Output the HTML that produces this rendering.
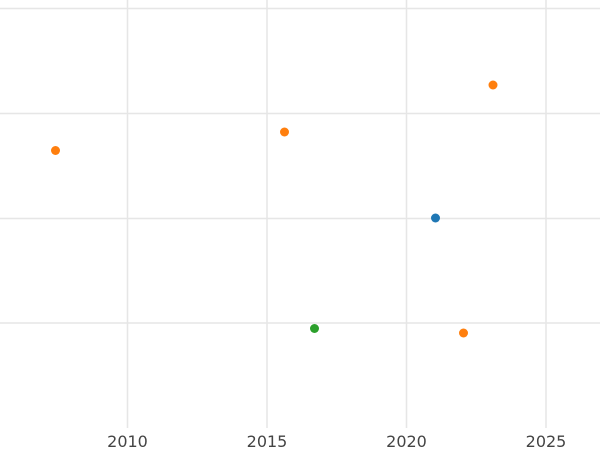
<!DOCTYPE html>
<html><head><meta charset="utf-8"><style>
html,body{margin:0;padding:0;background:#fff;width:600px;height:450px;overflow:hidden}
</style></head><body>
<svg width="600" height="450" xmlns="http://www.w3.org/2000/svg">
<g stroke="#e6e6e6" stroke-width="1.5">
<line x1="0" y1="8.5" x2="600" y2="8.5"/>
<line x1="0" y1="113.5" x2="600" y2="113.5"/>
<line x1="0" y1="218.5" x2="600" y2="218.5"/>
<line x1="0" y1="323" x2="600" y2="323"/>
<line x1="127.5" y1="0" x2="127.5" y2="428"/>
<line x1="267" y1="0" x2="267" y2="428"/>
<line x1="406.5" y1="0" x2="406.5" y2="428"/>
<line x1="546" y1="0" x2="546" y2="428"/>
</g>
<g font-family="DejaVu Sans, Liberation Sans, sans-serif" font-size="16" fill="#444" text-anchor="middle">
<text x="127.5" y="447">2010</text>
<text x="267" y="447">2015</text>
<text x="406.5" y="447">2020</text>
<text x="546" y="447">2025</text>
</g>
<g>
<circle cx="55.5" cy="150.5" r="4.5" fill="#ff7f0e"/>
<circle cx="284.5" cy="132" r="4.5" fill="#ff7f0e"/>
<circle cx="493" cy="85" r="4.5" fill="#ff7f0e"/>
<circle cx="435.5" cy="218" r="4.5" fill="#1f77b4"/>
<circle cx="314.5" cy="328.5" r="4.5" fill="#2ca02c"/>
<circle cx="463.5" cy="333" r="4.5" fill="#ff7f0e"/>
</g>
</svg>
</body></html>
